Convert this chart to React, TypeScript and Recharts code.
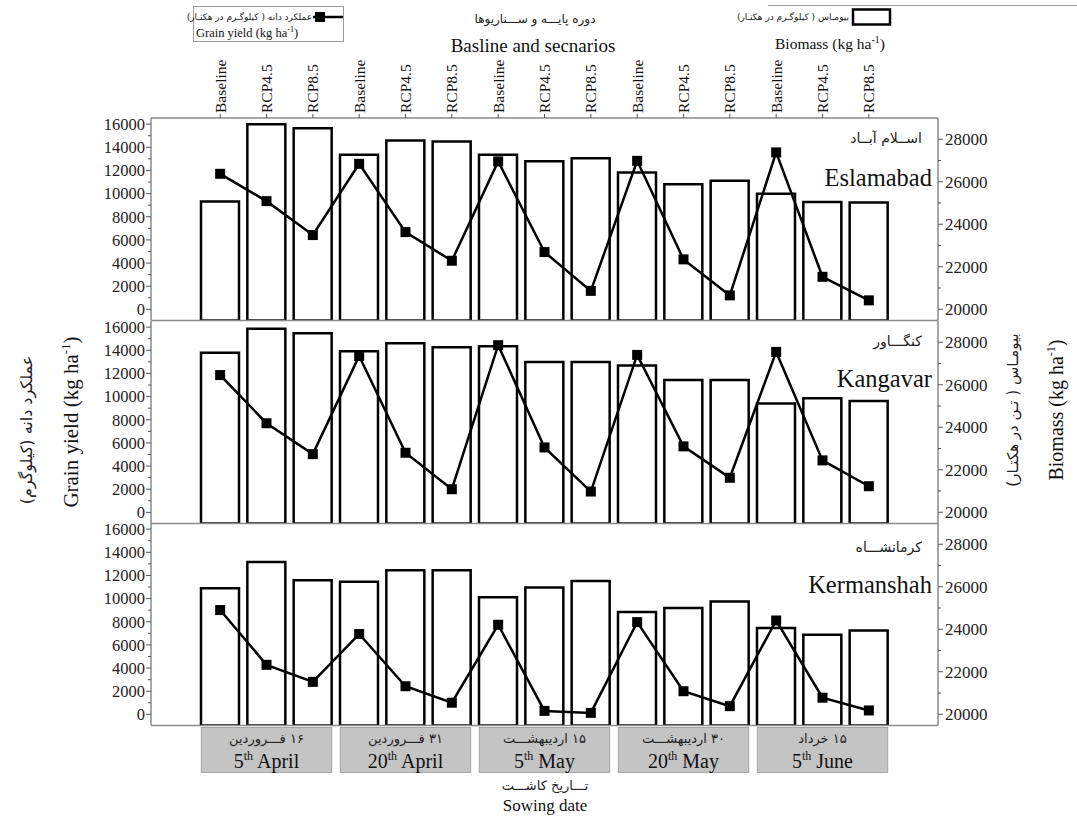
import React from "react"
import { Bar, ComposedChart, Line, XAxis, YAxis } from "recharts"

const SERIF = "Liberation Serif, Times New Roman, serif"
const FA = "DejaVu Sans, sans-serif"
const AXIS = "#8a8a8a"
const TICK = "#555"

const scenarios = ["Baseline", "RCP4.5", "RCP8.5"]
const dateDay = ["5", "20", "5", "20", "5"]
const dateMonth = ["April", "April", "May", "May", "June"]
const dateFa = ["۱۶ فـــروردین", "۳۱ فـــروردین", "۱۵ اردیبهشـــت", "۳۰ اردیبهشـــت", "۱۵ خرداد"]

const sitesEn = ["Eslamabad", "Kangavar", "Kermanshah"]
const sitesFa = ["اســلام آبــاد", "کنگـــاور", "کرمانشـــاه"]

// grain yield (kg/ha), left axis
const grainEslamabad = [11710, 9350, 6420, 12570, 6675, 4200, 12780, 4950, 1600, 12830, 4320, 1210, 13560, 2815, 780]
const grainKangavar = [11860, 7700, 5030, 13510, 5150, 2000, 14440, 5610, 1800, 13600, 5700, 2990, 13860, 4490, 2260]
const grainKermanshah = [9010, 4280, 2810, 6940, 2430, 1010, 7740, 300, 130, 7970, 2000, 710, 8110, 1440, 340]

// biomass (kg/ha), right axis
const bioEslamabad = [25065, 28700, 28520, 27276, 27940, 27890, 27276, 26960, 27100, 26430, 25880, 26045, 25430, 25050, 25020]
const bioKangavar = [27510, 28640, 28420, 27580, 27950, 27760, 27810, 27070, 27070, 26900, 26220, 26220, 25120, 25370, 25230]
const bioKermanshah = [25930, 27170, 26310, 26240, 26780, 26780, 25510, 25970, 26270, 24810, 25000, 25300, 24060, 23740, 23940]

const leftTicks = [0, 1000, 2000, 3000, 4000, 5000, 6000, 7000, 8000, 9000, 10000, 11000, 12000, 13000, 14000, 15000, 16000]
const rightTicks = [20000, 21000, 22000, 23000, 24000, 25000, 26000, 27000, 28000]

const W = 1077
const PLOT_TOP = [118, 320.5, 523]
const PLOT_H = 202.5
const PAD = { left: 46, right: 46 }

// persian text, normal right-to-left layout
function FaText({ x, cy, size, anchor = "middle", width = 240, text }: any) {
  const h = size * 1.6
  const left = anchor === "middle" ? x - width / 2 : x - width
  return (
    <foreignObject x={left} y={cy - h / 2} width={width} height={h}>
      <div
        dir="rtl"
        style={{
          textAlign: anchor === "middle" ? "center" : "right",
          fontFamily: FA,
          fontSize: size,
          lineHeight: `${h}px`,
          color: "#222",
          whiteSpace: "nowrap",
        }}
      >
        {text}
      </div>
    </foreignObject>
  )
}

function buildData(grain: number[], bio: number[]) {
  const rows: { key: string; grain: number; biomass: number }[] = []
  dateDay.forEach((_, g) => {
    scenarios.forEach((s, i) => {
      const k = g * 3 + i
      rows.push({ key: `${g}-${s}`, grain: grain[k], biomass: bio[k] })
    })
  })
  return rows
}

const LeftTick = (props: any) => {
  const { x, y, payload } = props
  const major = payload.value % 2000 === 0
  return (
    <g>
      <line x1={x} x2={x - (major ? 5 : 3)} y1={y} y2={y} stroke={TICK} />
      {major && (
        <text x={x - 6} y={y} dy="0.35em" textAnchor="end" fontFamily={SERIF} fontSize={16.5} fill="#222">
          {payload.value}
        </text>
      )}
    </g>
  )
}

const RightTick = (props: any) => {
  const { x, y, payload } = props
  const major = payload.value % 2000 === 0
  return (
    <g>
      <line x1={x} x2={x + (major ? 5 : 3)} y1={y} y2={y} stroke={TICK} />
      {major && (
        <text x={x + 7} y={y} dy="0.35em" textAnchor="start" fontFamily={SERIF} fontSize={17} fill="#222">
          {payload.value}
        </text>
      )}
    </g>
  )
}

const TopTick = (props: any) => {
  const { x, y, payload } = props
  const idx = props.index ?? payload.index
  return (
    <text
      transform={`translate(${x},${y}) rotate(-90)`}
      x={0}
      y={0}
      dy="0.35em"
      textAnchor="start"
      fontFamily={SERIF}
      fontSize={15.5}
      fill="#111"
    >
      {scenarios[idx % 3]}
    </text>
  )
}

const DateTick = (props: any) => {
  const { x, y, payload } = props
  const idx = props.index ?? payload.index
  if (idx % 3 !== 1) return <g />
  const g = Math.floor(idx / 3)
  const half = 65.3
  return (
    <g>
      <rect x={x - half} y={y + 2} width={half * 2} height={45} fill="#c4c4c4" stroke="#9a9a9a" strokeWidth={0.8} />
      <FaText x={x} cy={y + 14} size={13} width={128} text={dateFa[g]} />
      <text x={x} y={y + 42} textAnchor="middle" fontFamily={SERIF} fontSize={20} fill="#111">
        {dateDay[g]}
        <tspan dy={-8} fontSize={12}>th</tspan>
        <tspan dy={8}> {dateMonth[g]}</tspan>
      </text>
    </g>
  )
}

const SquareDot = (props: any) => {
  const { cx, cy } = props
  if (cx == null || cy == null) return <g />
  return <rect x={cx - 5} y={cy - 5} width={10} height={10} fill="#000" />
}

function Panel({ index, grain, bio }: { index: number; grain: number[]; bio: number[] }) {
  const data = buildData(grain, bio)
  const first = index === 0
  const last = index === 2
  const topAxisH = 60
  const mt = first ? PLOT_TOP[0] - topAxisH : 5
  const bottomH = last ? 50 : 2
  const divTop = first ? 0 : PLOT_TOP[index] - 5
  const height = PLOT_TOP[index] + PLOT_H - divTop + bottomH + 5
  return (
    <div style={{ position: "absolute", left: 0, top: divTop, width: W, height }}>
      <ComposedChart width={W} height={height} data={data} margin={{ top: mt, right: 69, bottom: 5, left: 91 }}>
        {first && (
          <XAxis
            xAxisId="top"
            orientation="top"
            dataKey="key"
            height={topAxisH}
            interval={0}
            padding={PAD}
            axisLine={{ stroke: AXIS, strokeWidth: 1.5 }}
            tickLine={{ stroke: TICK }}
            tickSize={4}
            tickMargin={1}
            tick={TopTick}
          />
        )}
        <XAxis
          dataKey="key"
          height={bottomH}
          interval={0}
          padding={PAD}
          axisLine={{ stroke: AXIS, strokeWidth: 1.5 }}
          tickLine={false}
          tickSize={0}
          tickMargin={0}
          tick={last ? DateTick : false}
        />
        <YAxis
          yAxisId="left"
          type="number"
          width={60}
          domain={[-960, 16530]}
          ticks={leftTicks}
          interval={0}
          allowDataOverflow
          axisLine={{ stroke: AXIS, strokeWidth: 1.5 }}
          tickLine={false}
          tickSize={0}
          tickMargin={0}
          tick={LeftTick}
        />
        <YAxis
          yAxisId="right"
          orientation="right"
          type="number"
          width={70}
          domain={[19470, 29000]}
          ticks={rightTicks}
          interval={0}
          allowDataOverflow
          axisLine={{ stroke: AXIS, strokeWidth: 1.5 }}
          tickLine={false}
          tickSize={0}
          tickMargin={0}
          tick={RightTick}
        />
        <Bar yAxisId="right" dataKey="biomass" barSize={38} fill="#fff" stroke="#000" strokeWidth={2.5} isAnimationActive={false} />
        <Line
          yAxisId="left"
          type="linear"
          dataKey="grain"
          stroke="#000"
          strokeWidth={2.5}
          dot={SquareDot}
          activeDot={false}
          isAnimationActive={false}
        />
      </ComposedChart>
    </div>
  )
}

function Annotations() {
  const labelY = [138, 341, 547]
  const nameY = [178, 379, 585]
  return (
    <svg width={W} height={819} style={{ position: "absolute", left: 0, top: 0 }}>
      {/* grain yield legend */}
      <rect x={193.5} y={6.5} width={150} height={35} fill="none" stroke="#9a9a9a" />
      <FaText x={312} cy={17} size={9} anchor="end" width={160} text="عملکرد دانه ( کیلوگـرم در هکتـار)" />
      <line x1={313} x2={343} y1={17} y2={17} stroke="#000" strokeWidth={2.5} />
      <rect x={315} y={12} width={10} height={10} fill="#000" />
      <text x={196} y={37} fontFamily={SERIF} fontSize={12.5} fill="#111">
        Grain yield (kg ha<tspan dy={-5} fontSize={8}>-1</tspan>
        <tspan dy={5}>)</tspan>
      </text>

      {/* title */}
      <FaText x={535} cy={20} size={12} text="دوره پایـــه و ســـناریوها" />
      <text x={533} y={52} textAnchor="middle" fontFamily={SERIF} fontSize={19} fill="#111">
        Basline and secnarios
      </text>

      {/* biomass legend */}
      <line x1={768} x2={1077} y1={5.5} y2={5.5} stroke="#9a9a9a" />
      <FaText x={849} cy={17} size={9} anchor="end" width={160} text="بیومـاس ( کیلوگـرم در هکتـار)" />
      <rect x={853} y={9.5} width={37} height={15} fill="#fff" stroke="#000" strokeWidth={2.5} />
      <text x={775} y={49} fontFamily={SERIF} fontSize={15.5} fill="#111">
        Biomass (kg ha<tspan dy={-6} fontSize={10}>-1</tspan>
        <tspan dy={6}>)</tspan>
      </text>

      {/* site labels */}
      {sitesEn.map((s, i) => (
        <g key={s}>
          <FaText x={922} cy={labelY[i]} size={14} anchor="end" width={150} text={sitesFa[i]} />
          <text x={932} y={nameY[i] + 8} textAnchor="end" fontFamily={SERIF} fontSize={24.5} fill="#111">
            {s}
          </text>
        </g>
      ))}

      {/* left axis titles */}
      <text transform="translate(32,430) rotate(-90)" textAnchor="middle" direction="rtl" fontFamily={FA} fontSize={16} fill="#222">
        عملکرد دانه (کیلوگرم)
      </text>
      <text transform="translate(78,422) rotate(-90)" textAnchor="middle" fontFamily={SERIF} fontSize={21} fill="#111">
        Grain yield (kg ha<tspan dy={-8} fontSize={13}>-1</tspan>
        <tspan dy={8}>)</tspan>
      </text>

      {/* right axis titles */}
      <text transform="translate(1018,410) rotate(-90)" textAnchor="middle" direction="rtl" fontFamily={FA} fontSize={15} fill="#222">
        بیومـاس ( تـن در هکتـار)
      </text>
      <text transform="translate(1063,410) rotate(-90)" textAnchor="middle" fontFamily={SERIF} fontSize={20} fill="#111">
        Biomass (kg ha<tspan dy={-8} fontSize={12}>-1</tspan>
        <tspan dy={8}>)</tspan>
      </text>

      {/* sowing date title */}
      <FaText x={545} cy={786} size={13} text="تـــاریخ کاشـــت" />
      <text x={545} y={811} textAnchor="middle" fontFamily={SERIF} fontSize={17} fill="#111">
        Sowing date
      </text>
    </svg>
  )
}

export default function App() {
  return (
    <div style={{ position: "absolute", left: 0, top: 0, width: W, height: 819, background: "#fff" }}>
      <Annotations />
      <Panel index={0} grain={grainEslamabad} bio={bioEslamabad} />
      <Panel index={1} grain={grainKangavar} bio={bioKangavar} />
      <Panel index={2} grain={grainKermanshah} bio={bioKermanshah} />
    </div>
  )
}
